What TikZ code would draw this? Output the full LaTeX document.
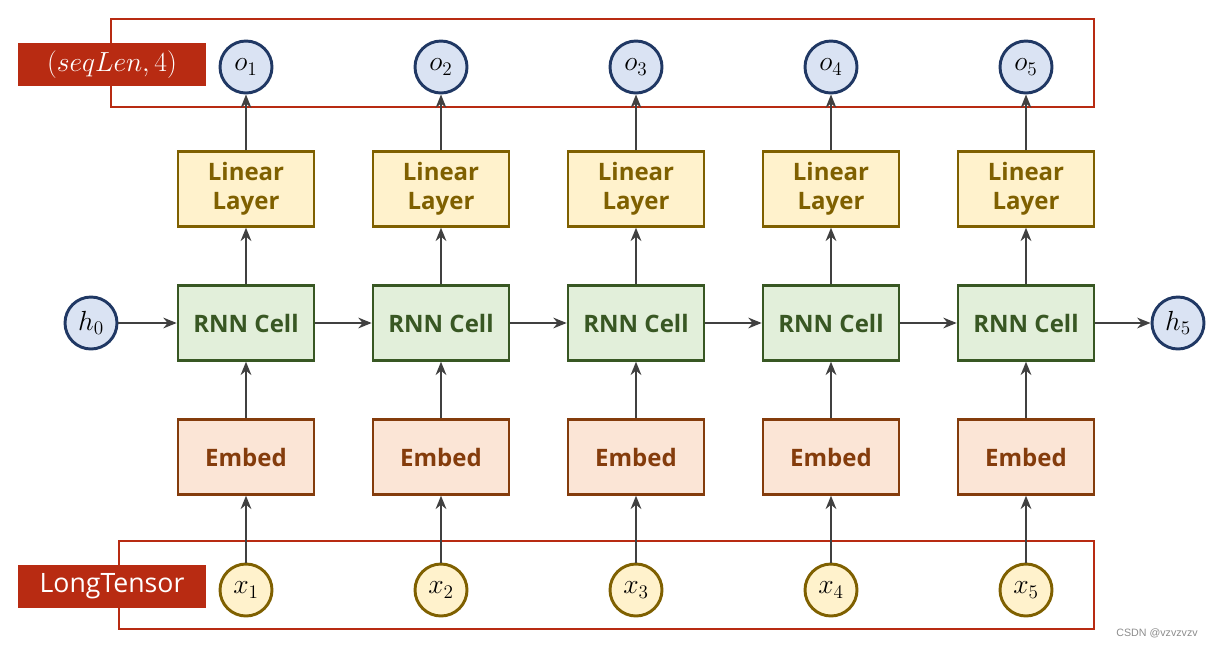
\documentclass[tikz,border=0pt]{standalone}
\usepackage{fontspec}
\setmainfont{Open Sans}
\newfontfamily\markfont{Liberation Sans}
\usetikzlibrary{arrows.meta}

\definecolor{redlab}{HTML}{B82B12}
\definecolor{lincol}{HTML}{7F6000}
\definecolor{linfill}{HTML}{FFF2CC}
\definecolor{rnncol}{HTML}{385723}
\definecolor{rnnfill}{HTML}{E2EFDA}
\definecolor{embcol}{HTML}{843C0C}
\definecolor{embfill}{HTML}{FBE5D6}
\definecolor{outcol}{HTML}{203864}
\definecolor{outfill}{HTML}{DAE3F3}
\definecolor{arrcol}{HTML}{404040}

\tikzset{
  box/.style={line width=2pt, minimum width=102pt, minimum height=56pt,
    align=center, font=\fontsize{18}{22}\selectfont\bfseries},
  linbox/.style={box, draw=lincol, fill=linfill, text=lincol},
  rnnbox/.style={box, draw=rnncol, fill=rnnfill, text=rnncol},
  embbox/.style={box, draw=embcol, fill=embfill, text=embcol},
  outnode/.style={circle, draw=outcol, fill=outfill, line width=2.2pt,
    minimum size=39pt, inner sep=0pt, font=\fontsize{21}{24}\selectfont},
  innode/.style={outnode, draw=lincol, fill=linfill},
  tag/.style={fill=redlab, text=white, minimum width=141pt, minimum height=32pt,
    inner sep=0pt, font=\fontsize{20}{24}\selectfont},
  frame/.style={draw=redlab, line width=2pt},
  arr/.style={-{Stealth[length=10pt,width=8pt]}, line width=2pt, draw=arrcol}
}

\begin{document}
\begin{tikzpicture}[x=0.75pt, y=-0.75pt]

\useasboundingbox (0,0) rectangle (1211,647);

% Frames round outputs and inputs
\draw[frame] (111,19) rectangle (1094,107);
\draw[frame] (119,541) rectangle (1094,629);

% Tags
\node[tag] (outtag) at (112,64.5) {$(seqLen,4)$};
\node[tag] (intag) at (112,586.5) {LongTensor};

% Outputs
\node[outnode] (o1) at (246,67) {$o_1$};
\node[outnode] (o2) at (441,67) {$o_2$};
\node[outnode] (o3) at (636,67) {$o_3$};
\node[outnode] (o4) at (831,67) {$o_4$};
\node[outnode] (o5) at (1026,67) {$o_5$};

% Linear layers
\node[linbox] (lin1) at (246,189) {Linear\\Layer};
\node[linbox] (lin2) at (441,189) {Linear\\Layer};
\node[linbox] (lin3) at (636,189) {Linear\\Layer};
\node[linbox] (lin4) at (831,189) {Linear\\Layer};
\node[linbox] (lin5) at (1026,189) {Linear\\Layer};

% RNN cells
\node[rnnbox] (rnn1) at (246,323) {RNN Cell};
\node[rnnbox] (rnn2) at (441,323) {RNN Cell};
\node[rnnbox] (rnn3) at (636,323) {RNN Cell};
\node[rnnbox] (rnn4) at (831,323) {RNN Cell};
\node[rnnbox] (rnn5) at (1026,323) {RNN Cell};

% Embeddings
\node[embbox] (emb1) at (246,457) {Embed};
\node[embbox] (emb2) at (441,457) {Embed};
\node[embbox] (emb3) at (636,457) {Embed};
\node[embbox] (emb4) at (831,457) {Embed};
\node[embbox] (emb5) at (1026,457) {Embed};

% Inputs
\node[innode] (x1) at (246,590) {$x_1$};
\node[innode] (x2) at (441,590) {$x_2$};
\node[innode] (x3) at (636,590) {$x_3$};
\node[innode] (x4) at (831,590) {$x_4$};
\node[innode] (x5) at (1026,590) {$x_5$};

% Hidden states
\node[outnode] (h0) at (91,323) {$h_0$};
\node[outnode] (h5) at (1178,323) {$h_5$};

% Vertical arrows
\draw[arr] (x1) -- (emb1);
\draw[arr] (x2) -- (emb2);
\draw[arr] (x3) -- (emb3);
\draw[arr] (x4) -- (emb4);
\draw[arr] (x5) -- (emb5);

\draw[arr] (emb1) -- (rnn1);
\draw[arr] (emb2) -- (rnn2);
\draw[arr] (emb3) -- (rnn3);
\draw[arr] (emb4) -- (rnn4);
\draw[arr] (emb5) -- (rnn5);

\draw[arr] (rnn1) -- (lin1);
\draw[arr] (rnn2) -- (lin2);
\draw[arr] (rnn3) -- (lin3);
\draw[arr] (rnn4) -- (lin4);
\draw[arr] (rnn5) -- (lin5);

\draw[arr] (lin1) -- (o1);
\draw[arr] (lin2) -- (o2);
\draw[arr] (lin3) -- (o3);
\draw[arr] (lin4) -- (o4);
\draw[arr] (lin5) -- (o5);

% Horizontal arrows
\draw[arr] (h0) -- (rnn1);
\draw[arr] (rnn1) -- (rnn2);
\draw[arr] (rnn2) -- (rnn3);
\draw[arr] (rnn3) -- (rnn4);
\draw[arr] (rnn4) -- (rnn5);
\draw[arr] (rnn5) -- (h5);

% Watermark
\node[text=black!45, font=\fontsize{8}{9}\selectfont\markfont] (mark) at (1157,633) {CSDN @vzvzvzv};

\end{tikzpicture}
\end{document}
